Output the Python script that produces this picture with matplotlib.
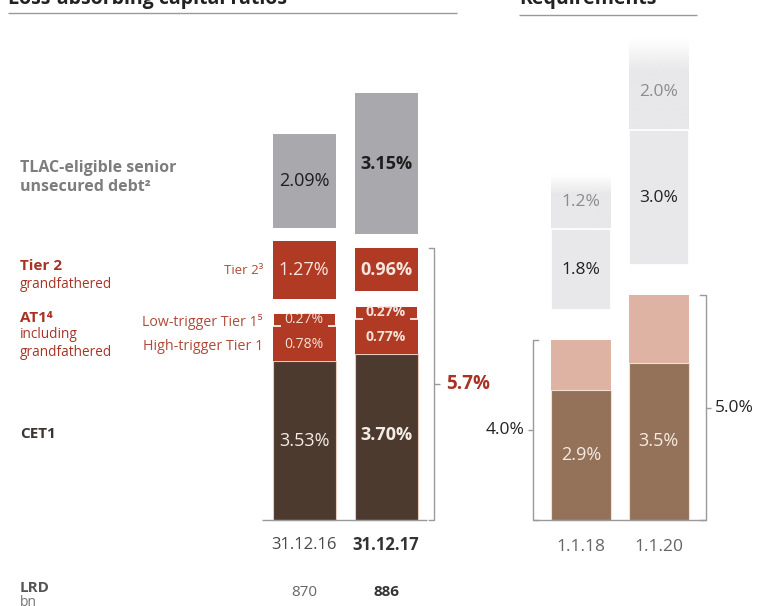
import numpy as np
import matplotlib.pyplot as plt
import matplotlib.colors as mcolors

plt.rcParams['font.family'] = ['Open Sans', 'DejaVu Sans']

# data
dates = ['31.12.16', '31.12.17']
cet1 = [3.53, 3.70]
at1_high = [0.78, 0.77]
at1_low = [0.27, 0.27]
tier2 = [1.27, 0.96]
tlac = [2.09, 3.15]
lrd = [870, 886]
total_going = '5.7%'

req_dates = ['1.1.18', '1.1.20']
req_cet1 = [2.9, 3.5]
req_going_add = [1.1, 1.5]
req_going_total = ['4.0%', '5.0%']
req_gone = [1.8, 3.0]
req_gone_extra = [1.2, 2.0]

# layout (x in pixels, y in percent)
W, H = 758, 606
PX = 45.0          # pixels per percentage point
BASE = 520         # baseline, pixels from top
left_x = [304, 386]
left_w = 63
right_x = [581, 658.5]
right_w = 60
gap_l = 0.34
gap_r = 0.66

C_CET1 = '#4b3a2d'
C_RED = '#b03a23'
C_TLAC = '#a9a9ad'
C_BROWN = '#94725a'
C_PINK = '#deb3a4'
C_LGRAY = '#e8e8ea'
C_LINE = '#9a9a9a'
C_TXT_RED = '#a83224'


def py(y):
    return (BASE - y) / PX


fig = plt.figure(figsize=(W / 100, H / 100), dpi=100)
ax = fig.add_axes([0, 0, 1, 1])


def faded_bar(x, h, bottom, width, color, fade):
    bar = ax.bar(x, h, width, bottom=bottom, color='none', edgecolor='none')[0]
    t = np.linspace(0, 1, 200)
    alpha = np.clip((1 - t) / fade, 0.08, 1)
    img = np.zeros((200, 1, 4))
    img[..., :3] = mcolors.to_rgb(color)
    img[:, 0, 3] = alpha
    ax.imshow(img, extent=[bar.get_x(), bar.get_x() + bar.get_width(), bottom, bottom + h],
              origin='lower', aspect='auto', interpolation='bilinear', zorder=1)


# left panel: actual ratios
for i in range(2):
    x = left_x[i]
    fw = 'bold' if i == 1 else 'normal'
    ax.bar(x, cet1[i], left_w, color=C_CET1, edgecolor='#e9cbbd', lw=0.8, zorder=2)
    b = cet1[i]
    ax.bar(x, at1_high[i], left_w, bottom=b, color=C_RED, zorder=2)
    ax.text(x, b + at1_high[i] / 2 - 0.02, f'{at1_high[i]:.2f}%', color='#f4e0d8', ha='center',
            va='center', fontsize=10, weight=fw, zorder=4)
    b += at1_high[i]
    ax.bar(x, at1_low[i], left_w - 2, bottom=b, color=C_RED, zorder=2)
    ax.hlines(b, x - left_w / 2, x - left_w / 2 + 8, color='white', lw=1.2, zorder=3)
    ax.hlines(b, x + left_w / 2 - 8, x + left_w / 2, color='white', lw=1.2, zorder=3)
    ax.text(x, b + at1_low[i] / 2 + 0.02, f'{at1_low[i]:.2f}%', color='#f4e0d8', ha='center',
            va='center', fontsize=10, weight=fw, zorder=4)
    b += at1_low[i] + gap_l
    ax.bar(x, tier2[i], left_w, bottom=b, color=C_RED, zorder=2)
    ax.text(x, b + tier2[i] / 2, f'{tier2[i]:.2f}%', color='#f6e6e0', ha='center',
            va='center', fontsize=13, weight=fw, zorder=4)
    b += tier2[i] + gap_l * 0.9
    ax.bar(x, tlac[i], left_w, bottom=b, color=C_TLAC, zorder=2)
    ax.text(x, b + tlac[i] / 2, f'{tlac[i]:.2f}%', color='#1e1e1e',
            ha='center', va='center', fontsize=13, weight=fw, zorder=4)
    ax.text(x, cet1[i] / 2 + (0.05 if i == 1 else 0), f'{cet1[i]:.2f}%', color='#f4ece6',
            ha='center', va='center', fontsize=13, weight=fw, zorder=4)
    ax.text(x, py(545), dates[i], ha='center', va='center', fontsize=12, weight=fw,
            color='#333333' if i == 1 else '#4a4a4a')
    ax.text(x, py(592), str(lrd[i]), ha='center', va='center', fontsize=11, weight=fw,
            color='#333333' if i == 1 else '#666666')

# left baseline and bracket
ax.hlines(0, 262, 427, color=C_LINE, lw=1)
top_l = cet1[1] + at1_high[1] + at1_low[1] + gap_l + tier2[1]
ax.plot([429, 434, 434, 429], [top_l, top_l, 0, 0], color=C_LINE, lw=1)
ax.hlines(top_l / 2, 434, 440, color=C_LINE, lw=1)
ax.text(446, top_l / 2, total_going, color=C_TXT_RED, ha='left', va='center',
        fontsize=13.5, weight='bold')

# right panel: requirements
for i in range(2):
    x = right_x[i]
    ax.bar(x, req_cet1[i], right_w, color=C_BROWN, edgecolor='#f2e0d6', lw=0.8, zorder=2)
    ax.bar(x, req_going_add[i], right_w, bottom=req_cet1[i], color=C_PINK, zorder=2)
    ax.text(x, req_cet1[i] / 2, f'{req_cet1[i]:.1f}%', color='#f5ebe2',
            ha='center', va='center', fontsize=13, zorder=4)
    b = req_cet1[i] + req_going_add[i] + gap_r
    ax.bar(x, req_gone[i], right_w, bottom=b, color=C_LGRAY, edgecolor='white', lw=1.2, zorder=2)
    ax.text(x, b + req_gone[i] / 2, f'{req_gone[i]:.1f}%',
            color='#222222', ha='center', va='center', fontsize=12.5, zorder=4)
    b += req_gone[i]
    faded_bar(x, req_gone_extra[i], b, right_w, C_LGRAY, 0.35)
    ax.text(x, b + req_gone_extra[i] / 2 - (0 if i == 0 else 0.15), f'{req_gone_extra[i]:.1f}%',
            color='#8c8c8c', ha='center', va='center', fontsize=12.5, zorder=4)
    ax.text(x, py(547), req_dates[i], ha='center', va='center', fontsize=12.5, color='#666666')

ax.hlines(0, 533, 706, color=C_LINE, lw=1)
t0 = req_cet1[0] + req_going_add[0]
ax.plot([538, 533, 533, 538], [t0, t0, 0, 0], color=C_LINE, lw=1)
ax.hlines(t0 / 2, 528, 533, color=C_LINE, lw=1)
ax.text(524, t0 / 2, req_going_total[0], ha='right', va='center', fontsize=12.5, color='#222222')
t1 = req_cet1[1] + req_going_add[1]
ax.plot([700, 706, 706, 700], [t1, t1, 0, 0], color=C_LINE, lw=1)
ax.hlines(t1 / 2, 706, 711, color=C_LINE, lw=1)
ax.text(715, t1 / 2, req_going_total[1], ha='left', va='center', fontsize=12.5, color='#222222')

# row labels
ax.text(20, py(168), 'TLAC-eligible senior', fontsize=11.5, weight='bold', color='#7d7d7d', va='center')
ax.text(20, py(187), 'unsecured debt²', fontsize=11.5, weight='bold', color='#7d7d7d', va='center')
ax.text(20, py(266), 'Tier 2', fontsize=11, weight='bold', color=C_TXT_RED, va='center')
ax.text(20, py(284), 'grandfathered', fontsize=9.8, color=C_TXT_RED, va='center')
ax.text(20, py(318), 'AT1⁴', fontsize=11, weight='bold', color=C_TXT_RED, va='center')
ax.text(20, py(335), 'including', fontsize=9.8, color=C_TXT_RED, va='center')
ax.text(20, py(352), 'grandfathered', fontsize=9.8, color=C_TXT_RED, va='center')
ax.text(20, py(434), 'CET1', fontsize=11, weight='bold', color='#3b3431', va='center')
ax.text(20, py(588), 'LRD', fontsize=11, weight='bold', color='#555555', va='center')
ax.text(20, py(603), 'bn', fontsize=10, color='#777777', va='center')

ax.text(263, py(271), 'Tier 2³', fontsize=9.5, color='#b04a3a', ha='right', va='center')
ax.text(263, py(322), 'Low-trigger Tier 1⁵', fontsize=10.2, color='#b04a3a', ha='right', va='center')
ax.text(263, py(346), 'High-trigger Tier 1', fontsize=10.3, color='#b04a3a', ha='right', va='center')

# clipped headers
ax.text(8, py(4), 'Loss-absorbing capital ratios', fontsize=14, weight='bold',
        color='#222222', va='baseline')
ax.hlines(py(13), 8, 457, color=C_LINE, lw=1)
ax.text(519, py(4), 'Requirements', fontsize=14, weight='bold', color='#222222', va='baseline')
ax.hlines(py(15), 519, 697, color=C_LINE, lw=1)

ax.set_xlim(0, W)
ax.set_ylim(py(H), py(0))
ax.axis('off')

fig.savefig('out.png', dpi=100)
